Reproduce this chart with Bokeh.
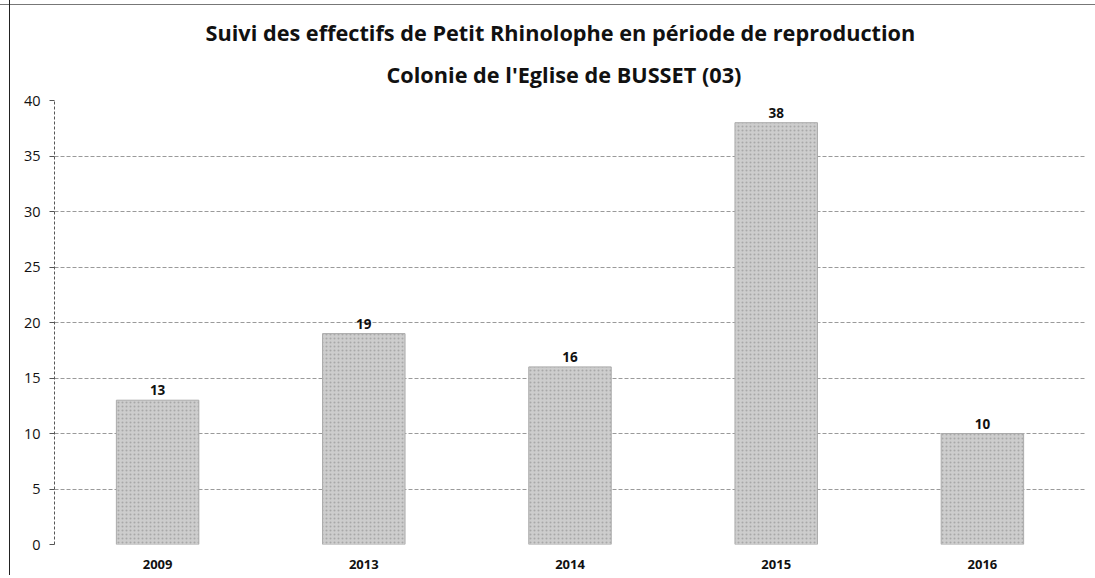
from bokeh.plotting import figure
from bokeh.models import ColumnDataSource, LabelSet, Title, FixedTicker
from bokeh.core.properties import value
from bokeh.embed import file_html
from bokeh.resources import INLINE

years = ["2009", "2013", "2014", "2015", "2016"]
counts = [13, 19, 16, 38, 10]
y_ticks = [0, 5, 10, 15, 20, 25, 30, 35, 40]
title_1 = "Suivi des effectifs de Petit Rhinolophe en période de reproduction"
title_2 = "Colonie de l'Eglise de BUSSET (03)"

src = ColumnDataSource(dict(x=years, y=counts, lab=[str(c) for c in counts]))

p = figure(x_range=years, y_range=(0, 40), width=1095, height=575,
           output_backend="svg", toolbar_location=None,
           min_border_left=54, min_border_right=10, min_border_top=100, min_border_bottom=31)
p.title = None
TFONT = "Open Sans"
p.add_layout(Title(text=title_2, align="left", text_font=TFONT, text_font_size="21.7px",
                   text_font_style="bold", text_color="#111111", standoff=23, offset=332), "above")
p.add_layout(Title(text=title_1, align="left", text_font=TFONT, text_font_size="21.7px",
                   text_font_style="bold", text_color="#111111", standoff=0, offset=151), "above")

p.vbar(x="x", top="y", width=0.4, source=src, fill_color="#cdcdcd",
       line_color="#ababab", line_width=1,
       hatch_pattern=".", hatch_color="#8f8f8f", hatch_alpha=0.6, hatch_scale=4)

p.add_layout(LabelSet(x="x", y="y", text="lab", source=src, text_align="center",
                      text_baseline="bottom", y_offset=5, text_font=value(TFONT),
                      text_font_size="13.5px", text_font_style="bold", text_color="#111111"))

p.yaxis.ticker = FixedTicker(ticks=y_ticks)
p.yaxis.axis_line_dash = "3 2"
p.yaxis.axis_line_color = "#555555"
p.yaxis.major_tick_in = 0
p.yaxis.major_tick_out = 5
p.yaxis.major_tick_line_color = "#555555"
p.yaxis.minor_tick_line_color = None
p.yaxis.major_label_text_font = TFONT
p.yaxis.major_label_text_font_size = "14.5px"
p.yaxis.major_label_text_color = "#111111"
p.yaxis.major_label_standoff = 9

p.xaxis.axis_line_color = None
p.xaxis.major_tick_line_color = None
p.xaxis.major_label_text_font = TFONT
p.xaxis.major_label_text_font_size = "13px"
p.xaxis.major_label_text_font_style = "bold"
p.xaxis.major_label_text_color = "#111111"
p.xaxis.major_label_standoff = 9

p.xgrid.grid_line_color = None
p.ygrid.grid_line_color = "#9a9a9a"
p.ygrid.grid_line_dash = "4 2"
p.ygrid.grid_line_width = 1
p.outline_line_color = None
p.border_fill_color = None
p.background_fill_color = None
p.styles = {
    "background-color": "white",
    "background-image": "linear-gradient(to right, transparent 9px, #222 9px, #222 10px, transparent 10px), "
                        "linear-gradient(to bottom, transparent 4px, #777 4px, #777 5px, transparent 5px)",
}

open("out.html", "w").write(file_html(p, INLINE))
